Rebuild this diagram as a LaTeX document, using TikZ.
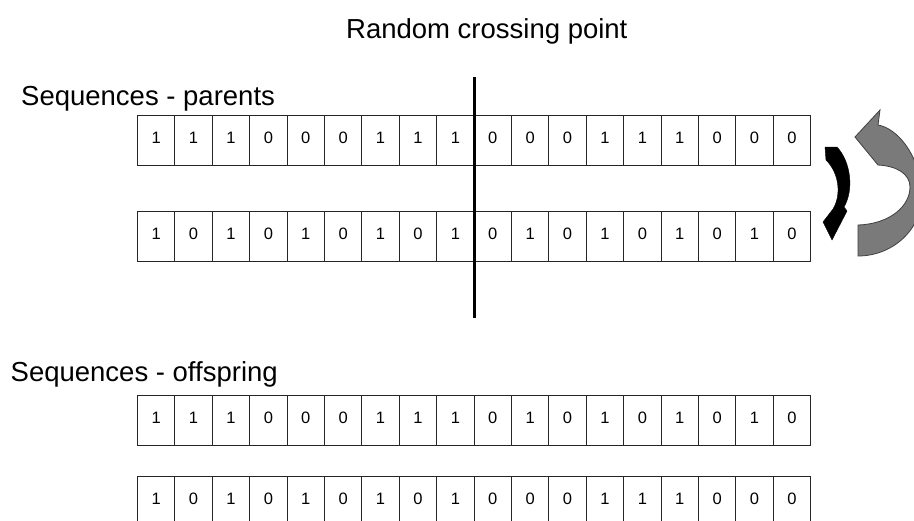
\documentclass[tikz,border=0pt]{standalone}
\usepackage{fontspec}
\setmainfont{Liberation Sans}
\begin{document}
\begin{tikzpicture}[x=1pt,y=-1pt,
  cell/.style={draw=black!85, line width=0.9pt, minimum width=37.4pt,
    minimum height=50pt, inner sep=0pt, anchor=north west,
    font=\fontsize{16.5}{16.5}\selectfont, text depth=6pt},
  heading/.style={anchor=base west, inner sep=0pt,
    font=\fontsize{27.5}{30}\selectfont},
  cut/.style={line width=3pt, black},
  swaparrow/.style={fill=black, draw=black, line width=0.4pt},
  turnarrow/.style={fill=black!52, draw=black!75, line width=0.8pt}]
\clip (0,0) rectangle (914,520);
\fill[white] (0,0) rectangle (914,520);

% headings
\node[heading] (title) at (346,38) {Random crossing point};
\node[heading] (parents) at (21,105) {Sequences - parents};
\node[heading] (offspring) at (10.5,381) {Sequences - offspring};

% bit strings: parents (p1, p2) and offspring (o1, o2)
\foreach \r/\t/\bits in {
  p1/115/{1,1,1,0,0,0,1,1,1,0,0,0,1,1,1,0,0,0},
  p2/211/{1,0,1,0,1,0,1,0,1,0,1,0,1,0,1,0,1,0},
  o1/395/{1,1,1,0,0,0,1,1,1,0,1,0,1,0,1,0,1,0},
  o2/476/{1,0,1,0,1,0,1,0,1,0,0,0,1,1,1,0,0,0}}{
  \foreach \b [count=\i from 0] in \bits
    \node[cell] (\r-\i) at ({137+37.4*\i},\t) {\b};
}

% crossing point between the ninth and tenth bit
\draw[cut] (p1-8.north east |- 0,77) -- (p1-8.north east |- 0,318);

% large turning arrow
\path[turnarrow]
  (858,256) .. controls (895,256) and (925,226) .. (922,190)
  .. controls (918,152) and (896,128) .. (878,125)
  -- (880,110) -- (855,137) -- (878,165)
  .. controls (897,166) and (910,174) .. (910,187)
  .. controls (910,206) and (890,224) .. (858,225) -- cycle;

% small swap arrow
\path[swaparrow]
  (825,147) -- (837,147)
  .. controls (851,162) and (854,190) .. (844,207)
  -- (847,211) -- (832,240) -- (823,222) -- (833,209)
  .. controls (841,196) and (840,174) .. (826,160) -- cycle;
\end{tikzpicture}
\end{document}
